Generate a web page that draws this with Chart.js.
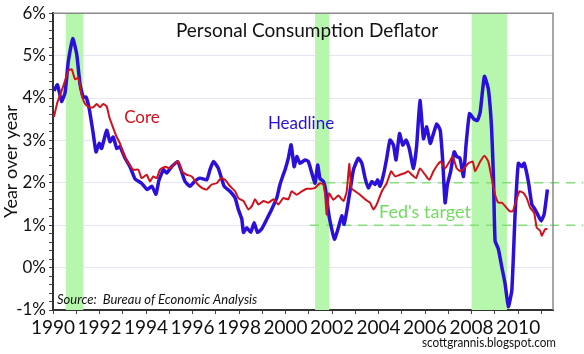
<!DOCTYPE html>
<html>
<head>
<meta charset="utf-8">
<title>Personal Consumption Deflator</title>
<script src="https://cdn.jsdelivr.net/npm/chart.js@4.4.1/dist/chart.umd.min.js"></script>
<style>
  body { margin: 0; background: #fff; }
  #wrap { width: 584px; height: 354px; }
</style>
</head>
<body>
<div id="wrap"><canvas id="myChart" width="584" height="354"></canvas></div>
<script>
// headline PCE deflator, yoy %
var hdYears = [1990.04,1990.19,1990.37,1990.52,1990.66,1990.85,1991.02,1991.16,1991.3,1991.42,1991.56,1991.73,1991.85,1991.99,1992.09,1992.31,1992.45,1992.59,1992.74,1992.88,1993.1,1993.31,1993.53,1993.81,1994.05,1994.25,1994.43,1994.55,1994.75,1994.89,1995.1,1995.36,1995.5,1995.68,1995.89,1996.08,1996.32,1996.61,1996.75,1996.9,1997.11,1997.36,1997.61,1997.83,1997.97,1998.12,1998.19,1998.33,1998.5,1998.65,1998.79,1998.97,1999.19,1999.4,1999.62,1999.76,1999.9,1999.98,2000.12,2000.24,2000.37,2000.48,2000.62,2000.84,2000.98,2001.15,2001.27,2001.38,2001.48,2001.63,2001.73,2001.84,2001.91,2002.1,2002.27,2002.42,2002.52,2002.63,2002.77,2002.92,2003.13,2003.28,2003.42,2003.56,2003.71,2003.85,2003.96,2004.06,2004.21,2004.35,2004.49,2004.64,2004.75,2004.9,2005.04,2005.18,2005.32,2005.5,2005.64,2005.78,2005.93,2006.07,2006.22,2006.36,2006.5,2006.65,2006.76,2006.86,2006.96,2007.1,2007.25,2007.36,2007.5,2007.65,2007.76,2007.91,2008.1,2008.25,2008.37,2008.55,2008.72,2008.86,2008.94,2009.01,2009.15,2009.3,2009.44,2009.58,2009.73,2009.87,2010.01,2010.16,2010.26,2010.44,2010.59,2010.73,2010.87,2010.99,2011.12,2011.26];
var hdValues = [4.17,4.31,3.92,4.13,4.87,5.40,5.03,4.33,4.02,4.02,3.74,3.16,2.73,2.93,2.81,3.24,2.97,3.08,2.81,2.85,2.58,2.38,2.09,1.99,1.84,1.92,1.73,2.05,2.31,2.23,2.38,2.50,2.31,2.03,1.92,2.03,2.11,2.07,2.31,2.50,2.34,1.92,1.80,1.64,1.37,1.14,0.83,0.94,0.83,1.06,0.83,0.91,1.14,1.37,1.64,1.96,2.19,2.31,2.58,2.90,2.38,2.62,2.46,2.54,2.50,2.19,1.99,2.42,2.10,2.03,1.80,1.33,1.10,0.67,0.94,1.22,1.02,1.33,1.80,2.31,2.58,2.46,2.11,1.88,2.03,1.96,2.07,1.92,2.19,2.58,3.01,2.89,2.54,3.16,2.89,3.01,2.81,2.34,2.89,3.94,3.04,3.32,2.93,3.16,3.39,3.24,2.50,1.53,1.96,2.27,2.73,2.62,2.58,2.15,2.89,3.63,3.50,3.47,3.67,4.51,4.21,3.28,2.11,0.63,0.44,0.01,-0.38,-0.92,-0.53,1.26,2.46,2.38,2.46,2.03,1.49,1.37,1.22,1.10,1.26,1.84];

// core PCE deflator, yoy %
var coreYears = [1990.04,1990.19,1990.37,1990.52,1990.66,1990.8,1990.95,1991.09,1991.23,1991.38,1991.56,1991.73,1991.88,1992.02,1992.16,1992.31,1992.42,1992.57,1992.74,1992.88,1993.02,1993.24,1993.45,1993.67,1993.81,1994.03,1994.17,1994.31,1994.46,1994.6,1994.82,1995.03,1995.25,1995.39,1995.54,1995.75,1995.97,1996.18,1996.4,1996.61,1996.82,1997.04,1997.22,1997.4,1997.61,1997.83,1997.97,1998.19,1998.4,1998.55,1998.69,1998.83,1999.05,1999.26,1999.48,1999.69,1999.9,2000.12,2000.26,2000.48,2000.7,2000.91,2001.1,2001.27,2001.48,2001.63,2001.7,2001.77,2001.87,2002.06,2002.27,2002.49,2002.63,2002.74,2002.82,2002.99,2003.2,2003.42,2003.63,2003.78,2003.92,2004.14,2004.35,2004.54,2004.71,2004.92,2005.14,2005.28,2005.43,2005.61,2005.78,2006.0,2006.18,2006.36,2006.53,2006.68,2006.86,2007.05,2007.19,2007.36,2007.53,2007.68,2007.86,2008.05,2008.15,2008.37,2008.55,2008.72,2008.86,2009.01,2009.15,2009.3,2009.44,2009.63,2009.77,2009.91,2010.06,2010.23,2010.37,2010.52,2010.69,2010.8,2010.95,2011.02,2011.16,2011.26];
var coreValues = [3.55,3.90,4.17,4.41,4.64,4.68,4.44,4.48,4.09,3.86,3.78,3.78,3.86,3.78,3.86,3.80,3.55,3.32,3.08,2.93,2.69,2.46,2.31,2.31,2.11,2.19,2.03,2.15,2.11,2.31,2.38,2.34,2.46,2.50,2.27,2.19,2.15,1.99,1.88,1.84,1.96,1.99,2.11,2.07,1.92,1.80,1.64,1.57,1.37,1.45,1.61,1.49,1.57,1.53,1.61,1.49,1.64,1.61,1.80,1.72,1.80,1.86,1.86,1.88,1.99,1.96,1.72,1.25,1.75,1.60,1.70,1.57,1.80,2.45,1.88,1.80,1.72,1.61,1.53,1.37,1.49,1.80,1.99,2.27,2.15,2.19,2.23,2.27,2.19,2.11,2.34,2.19,2.07,2.27,2.42,2.50,2.34,2.50,2.62,2.34,2.27,2.34,2.46,2.50,2.27,2.50,2.64,2.50,2.11,1.72,1.53,1.53,1.45,1.33,1.33,1.57,1.80,1.76,1.64,1.41,1.29,0.94,0.87,0.75,0.91,0.91];

// fed target band edges, start year of the dashed lines
var fedTarget = [1, 2];
var fedStart = 2001.05, fedEnd = 2012.8;

// recessions
var recStart = [1990.55, 2001.27, 2008.0];
var recEnd = [1991.3, 2001.88, 2009.52];

var FONT = "Lato, 'DejaVu Sans', sans-serif";

function toPts(xs, ys) {
  var out = [];
  for (var i = 0; i < xs.length; i++) out.push({x: xs[i], y: ys[i]});
  return out;
}

var recessionPlugin = {
  id: 'recessions',
  beforeDatasetsDraw: function(chart) {
    var ctx = chart.ctx, x = chart.scales.x, a = chart.chartArea;
    ctx.save();
    ctx.fillStyle = '#b6f7ad';
    for (var i = 0; i < recStart.length; i++) {
      var x0 = x.getPixelForValue(recStart[i]);
      var x1 = x.getPixelForValue(recEnd[i]);
      ctx.fillRect(x0, a.top, x1 - x0, a.bottom - a.top);
    }
    ctx.restore();
  }
};

var textPlugin = {
  id: 'texts',
  afterDraw: function(chart) {
    var ctx = chart.ctx, a = chart.chartArea;
    ctx.save();
    // box top / right
    ctx.strokeStyle = '#8a8a8a';
    ctx.lineWidth = 1.5;
    ctx.beginPath();
    ctx.moveTo(a.left, a.top);
    ctx.lineTo(a.right, a.top);
    ctx.lineTo(a.right, a.bottom);
    ctx.stroke();

    ctx.textBaseline = 'middle';
    ctx.textAlign = 'center';
    ctx.fillStyle = '#111';
    ctx.font = '19px ' + FONT;
    ctx.fillText('Personal Consumption Deflator', 307, 31);

    ctx.font = '17px ' + FONT;
    ctx.fillStyle = '#d0121c';
    ctx.fillText('Core', 142, 118);
    ctx.fillStyle = '#2a10d8';
    ctx.fillText('Headline', 301, 124);
    ctx.fillStyle = '#6fdc5e';
    ctx.font = '18px ' + FONT;
    ctx.fillText("Fed's target", 425, 212);

    ctx.textAlign = 'left';
    ctx.fillStyle = '#111';
    ctx.font = 'italic 13px ' + FONT;
    ctx.fillText('Source:  Bureau of Economic Analysis', 57, 300);
    ctx.font = '14px ' + FONT;
    ctx.fillText('scottgrannis.blogspot.com', 422, 342, 134);
    ctx.restore();
  }
};

function isWhole(v) {
  return Math.abs(v - Math.round(v)) < 1e-6;
}

new Chart("myChart", {
  type: "line",
  data: {
    datasets: [
      {
        label: 'Core',
        data: toPts(coreYears, coreValues),
        borderColor: '#d0121c',
        borderWidth: 2,
        pointRadius: 0,
        tension: 0.15
      },
      {
        label: 'Headline',
        data: toPts(hdYears, hdValues),
        borderColor: '#2a10d8',
        borderWidth: 3.5,
        pointRadius: 0,
        tension: 0.15
      },
      {
        label: 'Fed upper',
        data: [{x: fedStart, y: fedTarget[1]}, {x: fedEnd, y: fedTarget[1]}],
        borderColor: '#86de78',
        borderWidth: 1.5,
        borderDash: [9, 7],
        pointRadius: 0,
        clip: false
      },
      {
        label: 'Fed lower',
        data: [{x: fedStart, y: fedTarget[0]}, {x: fedEnd, y: fedTarget[0]}],
        borderColor: '#86de78',
        borderWidth: 1.5,
        borderDash: [9, 7],
        pointRadius: 0,
        clip: false
      }
    ]
  },
  options: {
    responsive: false,
    animation: false,
    layout: { padding: { top: 10, right: 31, bottom: 0, left: 0 } },
    plugins: {
      legend: { display: false },
      tooltip: { enabled: false }
    },
    scales: {
      x: {
        type: 'linear',
        min: 1990,
        max: 2011.5,
        afterFit: function(s) { s.height = 44; },
        border: { display: true, color: '#333', width: 2 },
        grid: {
          color: 'rgba(0,0,0,0)',
          tickColor: '#444',
          tickLength: 4,
          drawOnChartArea: false
        },
        ticks: {
          stepSize: 1,
          autoSkip: false,
          includeBounds: false,
          maxRotation: 0,
          padding: 2,
          color: '#111',
          font: { family: FONT, size: 19 },
          callback: function(v) { return (isWhole(v) && Math.round(v) % 2 === 0) ? String(Math.round(v)) : ''; }
        }
      },
      y: {
        min: -1,
        max: 6,
        afterFit: function(s) { s.width = 53; },
        border: { display: true, color: '#333', width: 2 },
        grid: {
          color: function(c) { return isWhole(c.tick.value) ? '#e3e6f3' : 'rgba(0,0,0,0)'; },
          tickColor: '#444',
          tickLength: 4
        },
        title: {
          display: true,
          text: 'Year over year',
          color: '#111',
          padding: { top: 0, bottom: 0 },
          font: { family: FONT, size: 18 }
        },
        ticks: {
          stepSize: 0.2,
          autoSkip: false,
          padding: 3,
          color: '#111',
          font: { family: FONT, size: 17 },
          callback: function(v) { return isWhole(v) ? Math.round(v) + '%' : ''; }
        }
      }
    }
  },
  plugins: [recessionPlugin, textPlugin]
});
</script>
</body>
</html>
